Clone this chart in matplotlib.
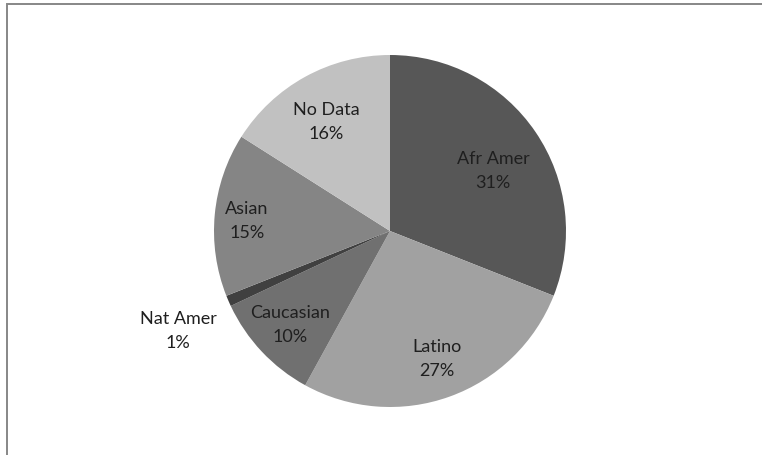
import numpy as np
import matplotlib
matplotlib.use('Agg')
import matplotlib.pyplot as plt
from matplotlib.patches import Rectangle

# data for the pie, clockwise from 12 o'clock
groups = ['Afr Amer', 'Latino', 'Caucasian', 'Nat Amer', 'Asian', 'No Data']
shares = [31, 27, 10, 1, 15, 16]
colors = ['#575757', '#a1a1a1', '#707070', '#404040', '#858585', '#c1c1c1']
# label placement: radius fraction and angle nudge (deg) from the wedge middle
label_dist = [0.677, 0.775, 0.78, 1.332, 0.814, 0.718]
label_turn = [-4.0, 0.4, 0.0, 1.9, 1.4, 1.6]

plt.rcParams['font.family'] = ['Lato', 'DejaVu Sans']

W, H = 762, 455
fig = plt.figure(figsize=(W / 100, H / 100), dpi=100)
fig.patch.set_facecolor('white')

# outer chart frame (right and bottom edges fall outside the image)
frame = Rectangle((6.5 / W, -0.1), 1.2, (H - 4.5) / H + 0.1,
                  transform=fig.transFigure, fill=False,
                  edgecolor='#878787', linewidth=1.4, clip_on=False)
fig.patches.append(frame)

cx, cy, r = 390, H - 231, 176
ax = fig.add_axes([(cx - r) / W, (cy - r) / H, 2 * r / W, 2 * r / H])
wedges, _ = ax.pie(shares, colors=colors, startangle=90, counterclock=False,
                   wedgeprops=dict(linewidth=0))
ax.set_xlim(-1, 1)
ax.set_ylim(-1, 1)
ax.set_aspect('equal')
ax.axis('off')

for w, name, val, d, t in zip(wedges, groups, shares, label_dist, label_turn):
    ang = np.deg2rad((w.theta1 + w.theta2) / 2 + t)
    x, y = d * np.cos(ang), d * np.sin(ang)
    ax.text(x, y, f'{name}\n{val}%', ha='center', va='center',
            fontsize=13, color='#1f1f1f', linespacing=1.65, clip_on=False)

fig.savefig('out.png', dpi=100)
